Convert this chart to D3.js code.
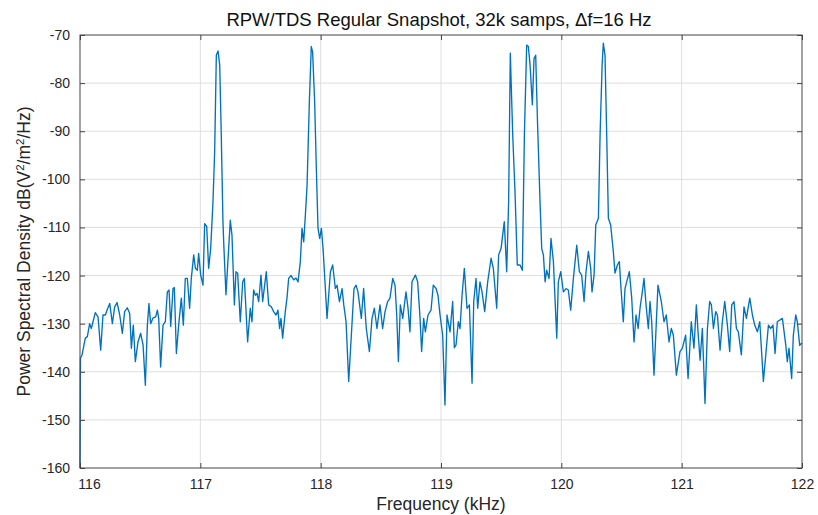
<!DOCTYPE html>
<html>
<head>
<meta charset="utf-8">
<script src="https://cdn.jsdelivr.net/npm/d3@7"></script>
<style>
  html, body { margin: 0; padding: 0; background: #fff; }
  svg { display: block; font-family: "Liberation Sans", Arial, Helvetica, sans-serif; }
</style>
</head>
<body>
<svg id="chart" width="818" height="515"></svg>
<script>
// Spectrum trace: frequency (kHz) and power spectral density (dB)
const freqKHz = [
  116.000,116.004,116.017,116.044,116.061,116.080,116.094,116.108,116.127,116.150,
  116.172,116.191,116.211,116.224,116.247,116.269,116.288,116.308,116.330,116.352,
  116.371,116.393,116.413,116.427,116.443,116.460,116.482,116.504,116.524,116.543,
  116.560,116.573,116.587,116.607,116.629,116.643,116.654,116.670,116.690,116.709,
  116.726,116.740,116.754,116.773,116.784,116.801,116.820,116.842,116.859,116.875,
  116.892,116.911,116.925,116.945,116.959,116.975,116.986,117.003,117.022,117.036,
  117.053,117.069,117.086,117.105,117.119,117.133,117.147,117.161,117.174,117.188,
  117.194,117.213,117.249,117.263,117.283,117.296,117.310,117.332,117.352,117.366,
  117.393,117.415,117.429,117.443,117.457,117.471,117.485,117.504,117.518,117.548,
  117.568,117.590,117.609,117.629,117.645,117.659,117.670,117.684,117.706,117.720,
  117.734,117.754,117.776,117.795,117.812,117.831,117.845,117.859,117.873,117.887,
  117.906,117.922,117.933,117.950,117.964,117.978,117.992,118.006,118.020,118.039,
  118.053,118.081,118.100,118.122,118.136,118.156,118.178,118.192,118.211,118.233,
  118.255,118.277,118.294,118.310,118.338,118.357,118.379,118.405,118.427,118.446,
  118.468,118.493,118.515,118.535,118.557,118.576,118.599,118.618,118.632,118.646,
  118.662,118.682,118.709,118.726,118.742,118.759,118.787,118.806,118.826,118.839,
  118.856,118.870,118.892,118.917,118.936,118.959,118.975,118.992,119.014,119.033,
  119.050,119.075,119.097,119.111,119.125,119.144,119.158,119.175,119.194,119.216,
  119.236,119.258,119.272,119.291,119.305,119.324,119.341,119.363,119.388,119.416,
  119.435,119.463,119.479,119.499,119.526,119.546,119.562,119.576,119.596,119.615,
  119.634,119.657,119.676,119.693,119.712,119.726,119.740,119.759,119.773,119.787,
  119.801,119.823,119.837,119.851,119.865,119.878,119.898,119.914,119.934,119.962,
  119.975,119.995,120.017,120.039,120.058,120.078,120.100,120.128,120.150,120.169,
  120.189,120.205,120.225,120.244,120.255,120.272,120.286,120.308,120.322,120.339,
  120.349,120.363,120.377,120.391,120.410,120.432,120.446,120.466,120.482,120.496,
  120.515,120.529,120.543,120.565,120.585,120.604,120.621,120.638,120.654,120.673,
  120.687,120.704,120.723,120.737,120.751,120.770,120.803,120.831,120.853,120.872,
  120.895,120.914,120.931,120.956,120.986,121.006,121.033,121.053,121.080,121.102,
  121.122,121.136,121.153,121.172,121.194,121.214,121.233,121.247,121.264,121.283,
  121.297,121.319,121.338,121.358,121.380,121.399,121.416,121.435,121.455,121.471,
  121.496,121.518,121.538,121.566,121.588,121.607,121.629,121.649,121.679,121.699,
  121.721,121.740,121.759,121.776,121.795,121.837,121.865,121.878,121.892,121.914,
  121.928,121.948,121.961,121.981,122.000
];
const psdDb = [
  -160.0,-137.2,-136.5,-133.0,-132.7,-130.0,-131.0,-129.6,-127.7,-128.6,
  -135.5,-128.2,-128.2,-127.2,-125.8,-130.0,-126.5,-125.6,-128.2,-132.0,
  -127.5,-126.7,-127.9,-135.1,-130.3,-137.9,-133.8,-132.0,-134.4,-142.8,
  -130.3,-125.8,-130.0,-128.8,-128.6,-127.2,-128.9,-139.0,-130.3,-129.6,
  -123.4,-123.0,-130.6,-122.7,-122.5,-136.2,-130.3,-124.7,-130.3,-120.6,
  -120.6,-126.8,-120.6,-115.7,-118.5,-118.9,-115.4,-119.9,-122.0,-109.2,
  -109.8,-118.5,-114.4,-104.7,-94.3,-74.2,-73.3,-76.2,-90.8,-108.8,
  -113.0,-124.0,-108.5,-111.6,-126.1,-119.2,-119.5,-129.6,-121.3,-120.6,
  -133.8,-126.8,-129.6,-123.0,-124.1,-123.7,-125.4,-119.9,-125.4,-119.2,
  -126.1,-126.5,-127.5,-128.2,-127.2,-131.0,-128.9,-133.0,-127.5,-124.7,
  -120.6,-120.0,-120.9,-120.5,-121.3,-117.1,-110.2,-113.0,-107.4,-101.2,
  -83.9,-72.4,-73.5,-83.9,-97.7,-110.2,-112.3,-110.2,-114.4,-122.7,
  -128.9,-119.2,-117.8,-122.7,-122.0,-125.4,-122.7,-126.1,-129.6,-142.0,
  -132.4,-122.7,-122.0,-123.4,-128.9,-122.7,-131.0,-135.8,-128.9,-126.8,
  -131.0,-126.1,-131.0,-127.5,-125.4,-124.7,-120.6,-122.0,-128.2,-137.9,
  -126.1,-128.9,-123.4,-126.8,-131.7,-121.3,-119.9,-121.3,-128.9,-135.8,
  -128.9,-131.7,-128.2,-127.2,-122.0,-122.7,-124.1,-128.2,-132.4,-146.9,
  -128.2,-131.7,-125.4,-135.0,-134.4,-129.6,-131.0,-124.1,-118.5,-126.8,
  -126.1,-142.4,-125.4,-120.6,-126.8,-121.3,-123.4,-127.5,-121.3,-116.4,
  -118.5,-126.8,-115.7,-114.4,-108.8,-119.2,-104.7,-73.8,-90.8,-102.6,
  -117.8,-117.8,-118.9,-90.8,-72.1,-72.4,-76.2,-84.5,-74.9,-74.2,
  -87.3,-104.7,-114.4,-115.7,-121.3,-118.9,-120.6,-112.3,-117.1,-133.0,
  -121.3,-119.2,-123.4,-122.7,-123.0,-127.2,-120.6,-113.7,-119.2,-119.9,
  -125.4,-119.2,-115.0,-118.5,-123.4,-119.9,-109.5,-108.1,-90.8,-76.2,
  -71.7,-74.2,-90.8,-108.1,-109.5,-115.0,-119.5,-117.8,-117.1,-122.7,
  -129.6,-122.7,-121.3,-119.2,-124.7,-133.8,-128.2,-131.0,-126.8,-123.4,
  -120.6,-126.1,-131.0,-125.4,-129.6,-140.7,-122.0,-125.4,-129.6,-128.2,
  -133.8,-131.0,-132.4,-140.7,-135.8,-135.1,-132.4,-141.4,-129.6,-135.1,
  -126.1,-131.7,-137.6,-131.0,-146.6,-131.0,-125.4,-126.1,-131.0,-127.5,
  -128.2,-135.5,-129.6,-125.4,-130.3,-135.8,-126.1,-125.4,-131.0,-131.7,
  -136.5,-126.5,-128.9,-124.7,-128.2,-130.3,-131.7,-129.6,-142.0,-136.5,
  -130.3,-131.0,-130.3,-136.2,-129.6,-128.9,-134.4,-137.9,-135.1,-141.4,
  -132.4,-128.2,-129.6,-134.5,-134.0
];

// Axis tick values
const xTicks = [116, 117, 118, 119, 120, 121, 122];
const yTicks = [-70, -80, -90, -100, -110, -120, -130, -140, -150, -160];

const titleText = "RPW/TDS Regular Snapshot, 32k samps, \u0394f=16 Hz";
const xLabelText = "Frequency (kHz)";

const svg = d3.select("#chart");
const margin = { left: 80, right: 16, top: 35, bottom: 47 };
const W = 818, H = 515;
const pw = W - margin.left - margin.right;
const ph = H - margin.top - margin.bottom;

const x = d3.scaleLinear().domain([116, 122]).range([margin.left, margin.left + pw]);
const y = d3.scaleLinear().domain([-160, -70]).range([margin.top + ph, margin.top]);

const axisColor = "#454545";
const gridColor = "#dedede";
const textColor = "#262626";
const plainNum = d => String(d);   // ASCII hyphen for negatives

// Grid lines
const grid = svg.append("g");
grid.selectAll("line.gx").data(xTicks.slice(1, -1)).join("line")
  .attr("x1", d => x(d)).attr("x2", d => x(d))
  .attr("y1", margin.top).attr("y2", margin.top + ph)
  .attr("stroke", gridColor).attr("stroke-width", 1);
grid.selectAll("line.gy").data(yTicks.slice(1, -1)).join("line")
  .attr("x1", margin.left).attr("x2", margin.left + pw)
  .attr("y1", d => y(d)).attr("y2", d => y(d))
  .attr("stroke", gridColor).attr("stroke-width", 1);

// Trace
const pts = freqKHz.map((f, i) => [f, psdDb[i]]);
const line = d3.line().x(d => x(d[0])).y(d => y(d[1]));
svg.append("path")
  .datum(pts)
  .attr("d", line)
  .attr("fill", "none")
  .attr("stroke", "#0072BD")
  .attr("stroke-width", 1.35)
  .attr("stroke-linejoin", "round");

// Axes with inward ticks (box style)
function styleAxis(g) {
  g.select(".domain").remove();
  g.selectAll(".tick line").attr("stroke", axisColor);
  g.selectAll(".tick text")
    .attr("fill", textColor)
    .attr("font-size", 14);
}
const xAxisG = svg.append("g")
  .attr("transform", `translate(0,${margin.top + ph})`)
  .call(d3.axisBottom(x).tickValues(xTicks).tickFormat(plainNum).tickSizeInner(-5).tickPadding(11))
  .call(styleAxis);
// first label sits just right of the corner so it clears the y labels
xAxisG.selectAll(".tick text").filter(d => d === xTicks[0]).attr("dx", 9);
svg.append("g")
  .attr("transform", `translate(0,${margin.top})`)
  .call(d3.axisTop(x).tickValues(xTicks).tickFormat("").tickSizeInner(-5))
  .call(styleAxis);
svg.append("g")
  .attr("transform", `translate(${margin.left},0)`)
  .call(d3.axisLeft(y).tickValues(yTicks).tickFormat(plainNum).tickSizeInner(-5).tickPadding(10))
  .call(styleAxis);
svg.append("g")
  .attr("transform", `translate(${margin.left + pw},0)`)
  .call(d3.axisRight(y).tickValues(yTicks).tickFormat("").tickSizeInner(-5))
  .call(styleAxis);

// Box
svg.append("rect")
  .attr("x", margin.left).attr("y", margin.top)
  .attr("width", pw).attr("height", ph)
  .attr("fill", "none").attr("stroke", axisColor).attr("stroke-width", 1);

// Title
svg.append("text")
  .attr("x", margin.left + pw / 2 - 2).attr("y", 26)
  .attr("text-anchor", "middle")
  .attr("font-size", 18.5)
  .attr("fill", "#111")
  .text(titleText);

// X label
svg.append("text")
  .attr("x", margin.left + pw / 2).attr("y", 510)
  .attr("text-anchor", "middle")
  .attr("font-size", 17.5)
  .attr("fill", textColor)
  .text(xLabelText);

// Y label with superscripts
const yl = svg.append("text")
  .attr("transform", `translate(30,${margin.top + ph / 2}) rotate(-90)`)
  .attr("text-anchor", "middle")
  .attr("font-size", 17.5)
  .attr("fill", textColor);
const yParts = [["Power Spectral Density dB(V", false], ["2", true], ["/m", false], ["2", true], ["/Hz)", false]];
yParts.forEach(([t, sup]) => {
  const ts = yl.append("tspan").text(t);
  if (sup) ts.attr("baseline-shift", "super").attr("font-size", 11.5);
});
</script>
</body>
</html>
